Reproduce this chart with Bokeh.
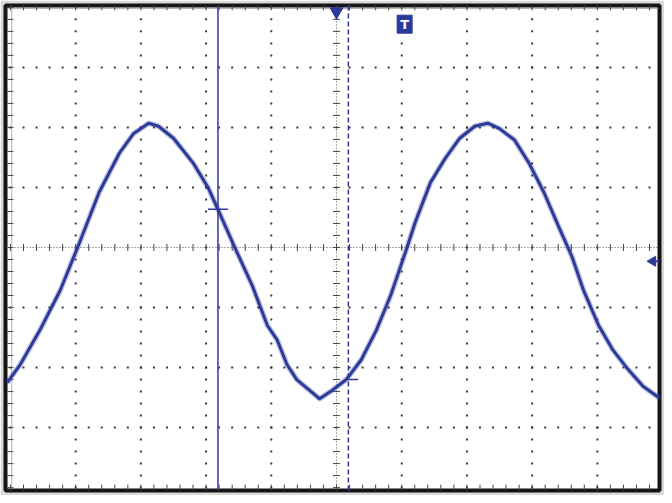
import numpy as np
from bokeh.plotting import figure
from bokeh.models import Range1d
from bokeh.core.properties import value
from bokeh.embed import file_html
from bokeh.resources import INLINE

# waveform samples (time in divisions, level in divisions)
t_div = [-5.05, -4.85, -4.55, -4.24, -3.97, -3.64, -3.33, -3.11, -2.88, -2.73,
         -2.50, -2.20, -1.97, -1.82, -1.56, -1.29, -1.06, -0.91, -0.76, -0.61,
         -0.38, -0.26, -0.08, 0.15, 0.38, 0.61, 0.83, 1.06, 1.21, 1.44,
         1.67, 1.89, 2.12, 2.32, 2.50, 2.73, 2.95, 3.18, 3.41, 3.61,
         3.79, 4.02, 4.24, 4.47, 4.70, 4.93, 4.98]
v_div = [-2.25, -1.95, -1.38, -0.72, 0.00, 0.92, 1.57, 1.90, 2.07, 2.02,
         1.82, 1.41, 1.00, 0.64, 0.00, -0.64, -1.30, -1.54, -1.95, -2.20,
         -2.41, -2.52, -2.39, -2.20, -1.87, -1.38, -0.80, -0.07, 0.43, 1.08,
         1.49, 1.82, 2.02, 2.07, 1.98, 1.79, 1.41, 0.92, 0.34, -0.15,
         -0.72, -1.30, -1.71, -2.03, -2.31, -2.49, -2.50]

cursor1_t = -1.818
cursor1_v = 0.639
cursor2_t = 0.182
cursor2_v = -2.197
trigger_t = 0.0
ground_v = -0.23

BLUE = "#2c3a99"
DOT = "#3a3a3a"

X0, X1 = -5.076, 4.953
Y0, Y1 = -4.048, 4.031

p = figure(width=664, height=495, output_backend="svg", toolbar_location=None,
           x_axis_type=None, y_axis_type=None,
           x_range=Range1d(X0, X1), y_range=Range1d(Y0, Y1),
           min_border_left=5, min_border_top=5, min_border_right=5, min_border_bottom=5)
p.background_fill_color = "white"
p.border_fill_color = "#d9d9d9"
p.outline_line_color = "#151515"
p.outline_line_width = 4

# graticule dots
xs, ys = [], []
fine_x = np.arange(-25, 25) * 0.2
fine_y = np.arange(-20, 21) * 0.2
for gx in [-4, -3, -2, -1, 1, 2, 3, 4]:
    xs += [gx] * len(fine_y)
    ys += list(fine_y)
for gy in [-3, -2, -1, 1, 2, 3]:
    xs += list(fine_x)
    ys += [gy] * len(fine_x)
p.scatter(xs, ys, marker="square", size=2, fill_color=DOT, line_color=None)

# center axes (dense dotted) with cross ticks
p.line([X0, X1], [0, 0], line_color="#555555", line_width=1, line_dash="1 2")
p.line([0, 0], [Y0, Y1], line_color="#555555", line_width=1, line_dash="1 2")
p.scatter(fine_x, [0] * len(fine_x), marker="dash", size=7, angle=np.pi / 2,
          line_color="#444444", line_width=1)
p.scatter([0] * len(fine_y), fine_y, marker="dash", size=7,
          line_color="#444444", line_width=1)

# edge ticks
p.scatter(fine_x, [4.0] * len(fine_x), marker="dash", size=6, angle=np.pi / 2, line_color="#444444")
p.scatter(fine_x, [-4.0] * len(fine_x), marker="dash", size=6, angle=np.pi / 2, line_color="#444444")
p.scatter([-5.0] * len(fine_y), fine_y, marker="dash", size=6, line_color="#444444")
p.line([X0, X1], [3.98, 3.98], line_color="#666666", line_dash="1 1")
p.line([-4.98, -4.98], [Y0, Y1], line_color="#666666", line_dash="1 1")

# cursors
p.line([cursor1_t, cursor1_t], [Y0, Y1], line_color=BLUE, line_width=1.5)
p.line([cursor2_t, cursor2_t], [Y0, Y1], line_color=BLUE, line_width=1.5, line_dash="5 3")
p.scatter([cursor1_t], [cursor1_v], marker="dash", size=20, line_color=BLUE, line_width=1.5)
p.segment([cursor2_t], [cursor2_v], [cursor2_t + 0.15], [cursor2_v], line_color=BLUE, line_width=1.5)

# waveform
p.line(t_div, v_div, line_color=BLUE, line_width=5.5, line_alpha=0.3, line_join="round")
p.line(t_div, v_div, line_color=BLUE, line_width=3, line_join="round")

# markers
p.scatter([trigger_t], [3.93], marker="inverted_triangle", size=13, fill_color=BLUE, line_color=BLUE)
p.scatter([4.85], [ground_v], marker="triangle", angle=np.pi / 2, size=10, fill_color=BLUE, line_color=BLUE)
p.segment([4.85], [ground_v], [4.95], [ground_v], line_color=BLUE, line_width=2)
p.rect([1.045], [3.72], width=15, height=18, width_units="screen", height_units="screen",
       fill_color=BLUE, line_color=BLUE)
p.text([1.045], [3.72], text=["T"], text_color="white", text_font=value("DejaVu Sans"),
       text_font_style="bold", text_font_size="13px", text_align="center", text_baseline="middle")

open("out.html", "w").write(file_html(p, INLINE))
